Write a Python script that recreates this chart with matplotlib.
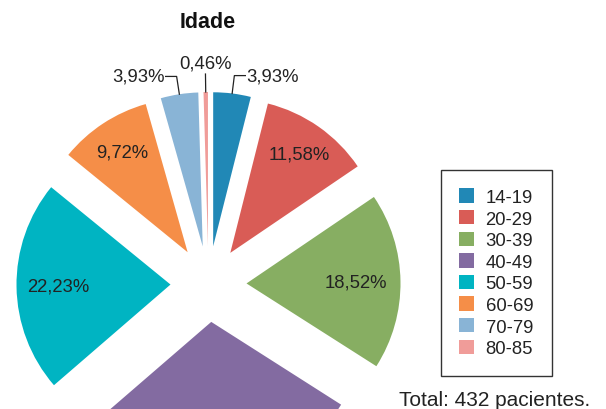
import numpy as np
import matplotlib
matplotlib.use("Agg")
import matplotlib.pyplot as plt

plt.rcParams['font.family'] = ['Liberation Sans', 'DejaVu Sans']

categories = ['14-19', '20-29', '30-39', '40-49', '50-59', '60-69', '70-79', '80-85']
percentages = [3.93, 11.58, 18.52, 29.63, 22.23, 9.72, 3.93, 0.46]
colors = ['#2188b6', '#d95c56', '#87ae62', '#836ba1', '#00b4c2', '#f58e48', '#89b4d6', '#f09c99']
title = 'Idade'
total_text = 'Total: 432 pacientes.'

W, H = 606, 410
fig = plt.figure(figsize=(W / 100, H / 100), dpi=100)
ax = fig.add_axes([0, 0, 1, 1])

cx, cy = 208.5, H - 285
radius = 154
expl = 38
label_dist = [0, 0.78, 0.71, 0.75, 0.73, 0.78, 0, 0]

labels_txt = [f"{v:.2f}".replace('.', ',') + '%' for v in percentages]
small = [0, 6, 7]

wedges, _ = ax.pie(percentages, colors=colors, startangle=90, counterclock=False,
                   radius=radius, center=(cx, cy), explode=[expl] * len(percentages),
                   wedgeprops=dict(linewidth=0), frame=True)
ax.set_xlim(0, W)
ax.set_ylim(0, H)
ax.set_aspect('equal')
ax.axis('off')

fs = 13.3
cum = np.cumsum([0] + percentages)
for i, (v, lab) in enumerate(zip(percentages, labels_txt)):
    mid = (cum[i] + v / 2) / 100 * 360  # clockwise from top
    ang = np.deg2rad(90 - mid)
    ux, uy = np.cos(ang), np.sin(ang)
    if i in small:
        r0 = expl + radius
        r1 = 210
        x0, y0 = cx + r0 * ux, cy + r0 * uy
        x1, y1 = cx + r1 * ux, cy + r1 * uy
        if abs(ux) < 0.05:
            ax.plot([x0, x1], [y0, y1], color='#222222', lw=0.9)
            ax.text(x1, y1 + 7, lab, ha='center', va='baseline', fontsize=fs, color='#222222')
        else:
            s = np.sign(ux)
            x2 = x1 + s * 11
            ax.plot([x0, x1, x2], [y0, y1, y1], color='#222222', lw=0.9)
            ax.text(x2 + s * 1, y1, lab, ha='left' if s > 0 else 'right', va='center',
                    fontsize=fs, color='#222222')
    else:
        d = expl + label_dist[i] * radius
        tx, ty = cx + d * ux, cy + d * uy
        if 0 < ty < H:
            ax.text(tx, ty, lab, ha='center', va='center',
                    fontsize=fs, color='#222222')

fig.text(208 / W, 1 - 28.5 / H, title, ha='center', va='baseline', fontsize=15.5,
         fontweight='bold', color='#111111')
fig.text(399 / W, 1 - 406 / H, total_text, ha='left', va='baseline', fontsize=15,
         color='#222222')

leg = ax.legend(wedges, categories, loc='upper left',
                bbox_to_anchor=(441 / W, 1 - 171 / H), bbox_transform=fig.transFigure,
                borderaxespad=0, fancybox=False, frameon=True, fontsize=fs,
                handlelength=0.81, handleheight=0.81, handletextpad=0.6,
                labelspacing=0.22, borderpad=1.0)
fr = leg.get_frame()
fr.set_edgecolor('#333333')
fr.set_linewidth(1.0)
fr.set_alpha(None)
for t in leg.get_texts():
    t.set_color('#222222')

fig.savefig('out.png', dpi=100)
